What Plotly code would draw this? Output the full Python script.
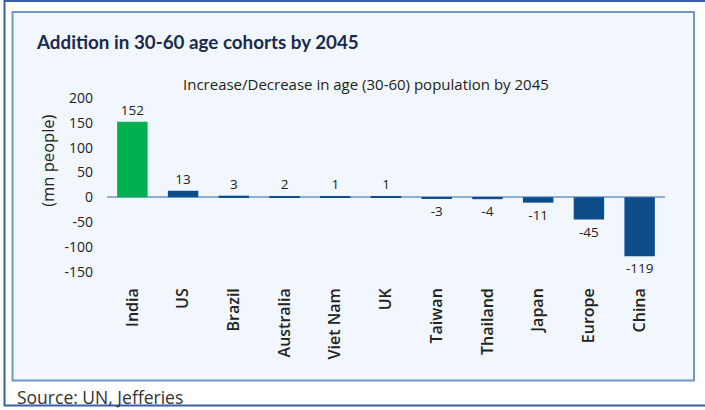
import plotly.graph_objects as go

# Population change in the 30-60 age cohort by 2045 (mn people)
countries = ["India", "US", "Brazil", "Australia", "Viet Nam", "UK",
             "Taiwan", "Thailand", "Japan", "Europe", "China"]
change_mn = [152, 13, 3, 2, 1, 1, -3, -4, -11, -45, -119]
y_ticks = [-150, -100, -50, 0, 50, 100, 150, 200]

GREEN = "#00b050"
NAVY = "#0f4c8a"
bar_colors = [GREEN if c == "India" else NAVY for c in countries]

W, H = 705, 410
PLOT_L, PLOT_R = 107, 665
PLOT_T, PLOT_B = 98.3, 284.1


def px(x):
    return (x - PLOT_L) / (PLOT_R - PLOT_L)


def py(y):
    return (PLOT_B - y) / (PLOT_B - PLOT_T)


fig = go.Figure(
    go.Bar(
        x=countries,
        y=change_mn,
        marker=dict(color=bar_colors, line=dict(width=0)),
        text=[str(v) for v in change_mn],
        textposition="outside",
        textfont=dict(family="Open Sans", size=13.5, color="#222222"),
        constraintext="none",
        cliponaxis=False,
        width=0.6,
        hoverinfo="skip",
    )
)

fig.update_layout(
    width=W,
    height=H,
    margin=dict(l=PLOT_L, r=W - PLOT_R, t=PLOT_T, b=H - PLOT_B, pad=0),
    paper_bgcolor="white",
    plot_bgcolor="rgba(0,0,0,0)",
    showlegend=False,
    font=dict(family="Open Sans", color="#222222"),
    xaxis=dict(
        tickangle=-90,
        tickfont=dict(family="Open Sans", size=16, weight=600, color="#222222"),
        showgrid=False,
        showline=False,
        ticks="",
        fixedrange=True,
    ),
    yaxis=dict(
        range=[-175, 200],
        tickvals=y_ticks,
        ticktext=[str(v) for v in y_ticks],
        tickfont=dict(family="Open Sans", size=14, color="#222222"),
        showgrid=False,
        showline=False,
        ticks="",
        ticklabelstandoff=13,
        zeroline=True,
        zerolinecolor="#8eaed3",
        zerolinewidth=2,
        fixedrange=True,
    ),
    shapes=[
        # outer frame
        dict(type="rect", xref="paper", yref="paper",
             x0=px(4.5), x1=px(712), y0=py(1.5), y1=py(405.5),
             line=dict(color="#3b5ea5", width=2), fillcolor="white",
             layer="below"),
        # chart panel
        dict(type="rect", xref="paper", yref="paper",
             x0=px(12.5), x1=px(694), y0=py(12.5), y1=py(380.5),
             line=dict(color="#7397c5", width=2), fillcolor="#f2f7fd",
             layer="below"),
    ],
    annotations=[
        dict(text="<b>Addition in 30-60 age cohorts by 2045</b>",
             xref="paper", yref="paper", x=px(34), y=py(42),
             xanchor="left", yanchor="middle", showarrow=False,
             font=dict(family="Lato", size=18.8, color="#1a2a4e")),
        dict(text="Increase/Decrease in age (30-60) population by 2045",
             xref="paper", yref="paper", x=px(366), y=py(84),
             xanchor="center", yanchor="middle", showarrow=False,
             font=dict(family="Open Sans", size=15, color="#222222")),
        dict(text="(mn people)", textangle=-90,
             xref="paper", yref="paper", x=px(48), y=py(161),
             xanchor="center", yanchor="middle", showarrow=False,
             font=dict(family="Open Sans", size=16.5, color="#222222")),
        dict(text="Source: UN, Jefferies",
             xref="paper", yref="paper", x=px(15), y=py(397),
             xanchor="left", yanchor="middle", showarrow=False,
             font=dict(family="Open Sans", size=17.5, color="#333333")),
    ],
)

fig.write_html("out.html")
